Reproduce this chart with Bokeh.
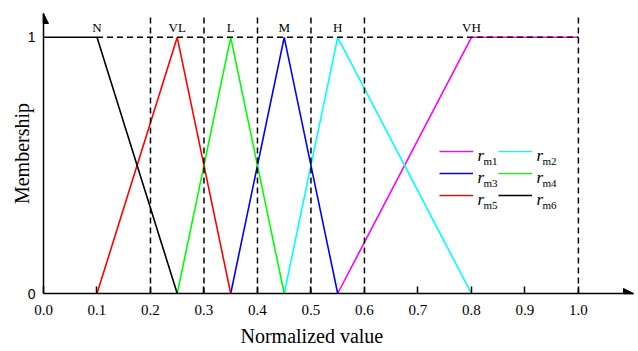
from bokeh.plotting import figure
from bokeh.models import (Range1d, FixedTicker, Arrow, NormalHead, Legend, LegendItem, Label, Title)
from bokeh.core.properties import value
from bokeh.embed import file_html
from bokeh.resources import INLINE

# ---- data ----
x_m1 = [0.55, 0.8, 1.0]; y_m1 = [0, 1, 1]          # VH
x_m2 = [0.45, 0.55, 0.8]; y_m2 = [0, 1, 0]         # H
x_m3 = [0.35, 0.45, 0.55]; y_m3 = [0, 1, 0]        # M
x_m4 = [0.25, 0.35, 0.45]; y_m4 = [0, 1, 0]        # L
x_m5 = [0.1, 0.25, 0.35]; y_m5 = [0, 1, 0]         # VL
x_m6 = [0.0, 0.1, 0.25]; y_m6 = [1, 1, 0]          # N
term_labels = ["N", "VL", "L", "M", "H", "VH"]
term_x = [0.1, 0.25, 0.35, 0.45, 0.55, 0.8]
boundaries = [0.2, 0.3, 0.4, 0.5, 0.6, 1.0]
x_ticks = [0.0, 0.1, 0.2, 0.3, 0.4, 0.5, 0.6, 0.7, 0.8, 0.9, 1.0]
x_tick_labels = ["0.0", "0.1", "0.2", "0.3", "0.4", "0.5", "0.6", "0.7", "0.8", "0.9", "1.0"]
series_names = ["m1", "m2", "m3", "m4", "m5", "m6"]
series_colors = ["#FF00FF", "#00FFFF", "#0000FF", "#00FF00", "#FF0000", "#000000"]

SERIF = "Liberation Serif"
SANS = "Liberation Sans"

X_END = 1.103
Y_END = 1.093
FRAME_L, FRAME_B = 43, 294   # frame origin in page pixels (for screen-unit labels)

p = figure(width=638, height=351, output_backend="svg", toolbar_location=None,
           x_range=Range1d(0, X_END), y_range=Range1d(0, Y_END),
           min_border_left=FRAME_L, min_border_right=5, min_border_top=13, min_border_bottom=57)
p.outline_line_color = None
p.xgrid.visible = False
p.ygrid.visible = False
p.background_fill_color = "white"

# axes
p.xaxis.ticker = FixedTicker(ticks=x_ticks)
p.xaxis.major_label_overrides = {t: l for t, l in zip(x_ticks, x_tick_labels)}
p.xaxis.major_tick_in = 7
p.xaxis.major_tick_out = 0
p.xaxis.minor_tick_line_color = None
p.xaxis.axis_line_width = 1.5
p.xaxis.major_tick_line_width = 1.5
p.xaxis.major_label_text_font = SERIF
p.xaxis.major_label_text_font_size = "15px"
p.xaxis.major_label_text_color = "black"
p.xaxis.major_label_standoff = 11

p.yaxis.ticker = FixedTicker(ticks=[0, 1])
p.yaxis.major_tick_in = 0
p.yaxis.major_tick_out = 0
p.yaxis.minor_tick_line_color = None
p.yaxis.axis_line_width = 1.5
p.yaxis.major_label_text_font = SANS
p.yaxis.major_label_text_font_size = "14px"
p.yaxis.major_label_text_color = "black"
p.yaxis.major_label_standoff = 8
p.yaxis.axis_label = "Membership"
p.yaxis.axis_label_text_font = SERIF
p.yaxis.axis_label_text_font_size = "20px"
p.yaxis.axis_label_text_font_style = "normal"
p.yaxis.axis_label_text_color = "black"
p.yaxis.axis_label_standoff = -8

# x-axis title in the bottom panel
xt = Title(text="Normalized value", align="left", offset=197, standoff=10,
           text_font=SERIF, text_font_size="20px", text_font_style="normal",
           text_color="black")
p.add_layout(xt, "below")

# arrows on axes
p.add_layout(Arrow(end=NormalHead(size=10, fill_color="black", line_color="black"),
                   x_start=X_END - 0.02, y_start=0, x_end=X_END, y_end=0,
                   line_color="black", line_width=1.5))
p.add_layout(Arrow(end=NormalHead(size=10, fill_color="black", line_color="black"),
                   x_start=0, y_start=Y_END - 0.04, x_end=0, y_end=Y_END,
                   line_color="black", line_width=1.5))

# curves
xs = [x_m1, x_m2, x_m3, x_m4, x_m5, x_m6]
ys = [y_m1, y_m2, y_m3, y_m4, y_m5, y_m6]
renderers = []
for xx, yy, c in zip(xs, ys, series_colors):
    renderers.append(p.line(xx, yy, line_color=c, line_width=1.6))

# dashed guides
p.segment(x0=boundaries, y0=[0] * len(boundaries), x1=boundaries,
          y1=[1.086] * len(boundaries), line_color="black", line_width=1.5, line_dash="6 4")
p.line([0.1, 1.0], [1, 1], line_color="black", line_width=1.5, line_dash="6 4")

# term labels
p.text(x=term_x, y=[1] * len(term_x), text=term_labels, text_align="center",
       text_baseline="bottom", y_offset=-2, text_font=value(SERIF),
       text_font_size="13px", text_color="black")

# legend: two single-column legends (lines), texts added as labels
row_y = [151, 173, 195]
col_x = [439, 498]
for col in range(2):
    idx = [col, col + 2, col + 4]
    items = [LegendItem(label=" ", renderers=[renderers[i]]) for i in idx]
    leg = Legend(items=items, location=(col_x[col] - FRAME_L, FRAME_B - (row_y[2] + 11)),
                 glyph_width=34, glyph_height=20, label_width=1, label_standoff=0,
                 spacing=2, padding=0, margin=0, border_line_color=None,
                 background_fill_alpha=0, label_text_font_size="10px")
    p.add_layout(leg)
    for r, i in enumerate(idx):
        sx = col_x[col] + 38 - FRAME_L
        sy = FRAME_B - (row_y[r] + 5)
        p.add_layout(Label(x=sx, y=sy, x_units="screen", y_units="screen", text="r",
                           text_font=SERIF, text_font_style="italic", text_font_size="17px",
                           text_baseline="alphabetic", text_align="left", text_color="black"))
        p.add_layout(Label(x=sx + 6, y=sy - 5, x_units="screen", y_units="screen",
                           text=series_names[i], text_font=SERIF, text_font_size="11px",
                           text_baseline="alphabetic", text_align="left", text_color="black"))

open("out.html", "w").write(file_html(p, INLINE))
